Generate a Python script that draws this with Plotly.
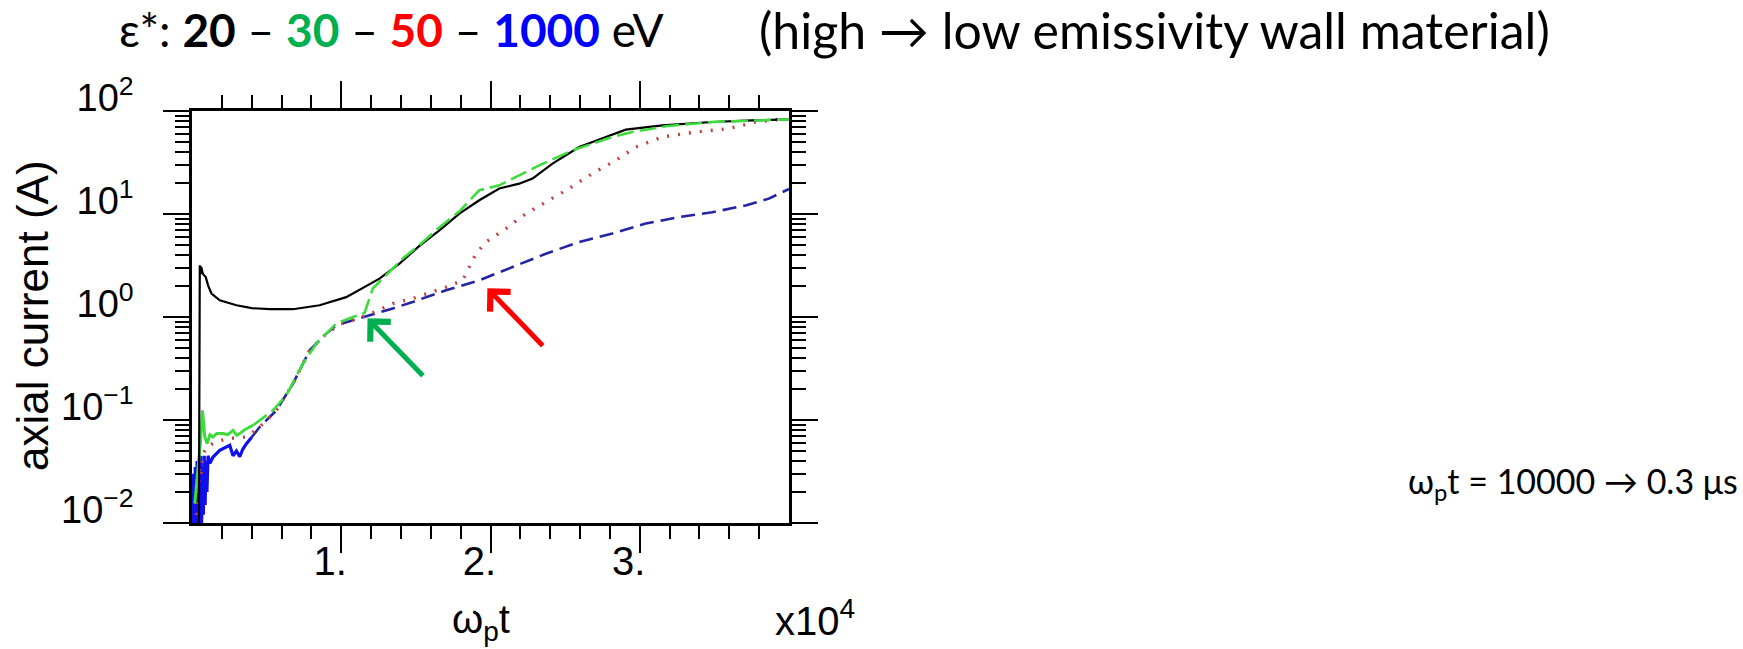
import math
import plotly.graph_objects as go

# ---------------- data ----------------
# x in units of omega_p * t, y = axial current in A
black_x = [440, 470, 495, 522, 545, 565, 590, 620, 660, 720, 800, 923, 1077, 1304, 1860, 2977, 4000,
           5204, 6763, 8548, 10334, 12562, 13900, 15237, 16575, 17913, 19251, 20589, 21926, 22816,
           24154, 25940, 26830, 29064, 31518, 34860, 37500, 39766, 40000]
black_y = [0.001, 0.01, 2.8, 3.18, 2.7, 3.1, 2.6, 3.06, 2.8, 2.65, 2.55, 2.44, 2.03, 1.69, 1.45, 1.30, 1.22,
           1.19, 1.19, 1.30, 1.56, 2.36, 3.30, 4.9, 6.95, 10.1, 13.6, 17.7, 19.7, 22.1,
           30.8, 44.7, 50.0, 65.9, 72.6, 78.2, 81.0, 82.6, 83.0]

green_early_x = [187, 408, 560, 702, 856, 1010, 1200, 1411, 1650, 2080, 2400, 2750, 3000, 3197, 3500, 4087]
green_early_y = [0.0154, 0.0325, 0.06, 0.124, 0.0684, 0.059, 0.072, 0.0684, 0.074, 0.0738, 0.072, 0.0794,
                 0.071, 0.0738, 0.08, 0.0889]
green_x = [4087, 5425, 6321, 7432, 8328, 9666, 10776, 11559, 12115, 12783, 14121, 15237, 16575, 17913,
           19251, 20589, 21480, 23265, 25492, 28167, 29505, 31740, 34860, 37500, 40000]
green_y = [0.0889, 0.124, 0.174, 0.353, 0.552, 0.863, 1.0, 1.094, 1.89, 2.36, 3.7, 5.0, 7.4, 10.6,
           17.0, 19.0, 22.1, 29.7, 41.5, 56.0, 62.5, 71.0, 78.2, 81.0, 83.0]

red_x = [300, 450, 522, 600, 743, 1000, 1500, 2308, 3000, 3646, 4535, 5652, 6763, 7880, 8997, 10000,
         11672, 13452, 14790, 17023, 18137, 18583, 19030, 19698, 21037, 22375, 23933, 25271, 26830,
         28395, 29733, 31518, 33746, 35973, 37759, 39766]
red_y = [0.012, 0.025, 0.035, 0.03, 0.0472, 0.055, 0.06, 0.0659, 0.067, 0.0684, 0.0855, 0.124, 0.225,
         0.475, 0.69, 0.86, 1.03, 1.35, 1.51, 1.95, 2.27, 3.05, 4.12, 5.35, 7.21, 10.1, 13.6, 17.7, 24.7,
         33.2, 44.7, 56.0, 62.5, 67.5, 78.2, 84.3]

blue_early_x = [40, 100, 160, 220, 280, 340, 400, 460, 520, 580, 640, 700, 760, 820, 880, 940, 1000,
                1077, 1200, 1411, 1860, 2300, 2528, 2750, 2977, 3200, 3400, 3646, 4000]
blue_early_y = [0.006, 0.03, 0.005, 0.035, 0.006, 0.04, 0.007, 0.03, 0.008, 0.045, 0.009, 0.035, 0.012,
                0.045, 0.015, 0.04, 0.02, 0.045, 0.038, 0.0437, 0.0508, 0.055, 0.0568, 0.045, 0.05, 0.044,
                0.052, 0.0589, 0.068]
blue_x = [4000, 4535, 5652, 6763, 7880, 8997, 9666, 10776, 11672, 13452, 14790, 17023, 19251, 21480,
          23710, 25940, 28167, 30400, 32630, 34860, 37090, 38650, 40000]
blue_y = [0.068, 0.0855, 0.124, 0.225, 0.475, 0.69, 0.83, 0.929, 1.0, 1.21, 1.40, 1.82, 2.27, 3.05,
          4.12, 5.35, 6.46, 8.07, 9.35, 10.4, 12.1, 14.1, 17.5]

# arrows: (tip x, tip y, tail x, tail y)
green_arrow = (11760, 0.97, 15570, 0.26)
red_arrow = (19790, 1.9, 23600, 0.508)

x_tickvals = [10000, 20000, 30000]
x_ticktext = ["1.", "2.", "3."]
x_minor = [2000, 4000, 6000, 8000, 12000, 14000, 16000, 18000, 22000, 24000, 26000, 28000,
           32000, 34000, 36000, 38000]
y_tickvals = [0.01, 0.1, 1, 10, 100]
y_ticktext = ["10<sup>\u22122</sup>", "10<sup>\u22121</sup>", "10<sup>0</sup>", "10<sup>1</sup>",
              "10<sup>2</sup>"]
y_minor = [m * 10 ** e for e in range(-2, 2) for m in range(2, 10)]

# ---------------- layout geometry ----------------
W, H = 1743, 649
L, R, T, B = 192, 789, 111, 523


def px(xp):
    return (xp - L) / (R - L)


def py(yp):
    return (B - yp) / (B - T)


fig = go.Figure()
fig.add_trace(go.Scatter(x=blue_early_x, y=blue_early_y, mode="lines",
                         line=dict(color="#1010ee", width=3.2)))
fig.add_trace(go.Scatter(x=blue_x, y=blue_y, mode="lines",
                         line=dict(color="#2424a4", width=2.6, dash="14px,7px")))
fig.add_trace(go.Scatter(x=red_x, y=red_y, mode="lines",
                         line=dict(color="#c04040", width=3.4, dash="2px,9px")))
fig.add_trace(go.Scatter(x=green_early_x, y=green_early_y, mode="lines",
                         line=dict(color="#3cdc3c", width=3)))
fig.add_trace(go.Scatter(x=black_x, y=black_y, mode="lines",
                         line=dict(color="#000000", width=2.2)))
fig.add_trace(go.Scatter(x=green_x, y=green_y, mode="lines",
                         line=dict(color="#3cdc3c", width=2.6, dash="17px,6px")))

SANS = "Liberation Sans, Arial, sans-serif"
SLIDE = "Lato, Calibri, sans-serif"

fig.update_layout(
    width=W, height=H,
    margin=dict(l=L, r=W - R, t=T, b=H - B, pad=0),
    paper_bgcolor="white", plot_bgcolor="white",
    showlegend=False,
    xaxis=dict(range=[0, 40000], showline=True, linewidth=2.5, linecolor="black", mirror="allticks",
               ticks="outside", tickmode="array", tickvals=x_tickvals, ticktext=x_ticktext,
               ticklen=27, tickwidth=2, tickcolor="black", showgrid=False, zeroline=False,
               tickfont=dict(family=SANS, size=40, color="black"), ticklabelshift=-11,
               ticklabelstandoff=-26,
               minor=dict(tickmode="array", tickvals=x_minor, ticks="outside", ticklen=13,
                          tickwidth=2, tickcolor="black", showgrid=False)),
    yaxis=dict(type="log", range=[-2, 2], showline=True, linewidth=2.5, linecolor="black",
               mirror="allticks", ticks="outside", tickmode="array", tickvals=y_tickvals,
               ticktext=y_ticktext, ticklen=26, tickwidth=2, tickcolor="black", showgrid=False,
               zeroline=False, tickfont=dict(family=SANS, size=38, color="black"),
               ticklabelstandoff=22, ticklabelshift=-13,
               minor=dict(tickmode="array", tickvals=y_minor, ticks="outside", ticklen=14,
                          tickwidth=2, tickcolor="black", showgrid=False)),
)

annotations = [
    dict(text="\u03b5*: <b>20</b> \u2013 <b><span style='color:#00B050'>30</span></b> \u2013 "
              "<b><span style='color:#FF0000'>50</span></b> \u2013 "
              "<b><span style='color:#0000FF'>1000</span></b> eV",
         x=px(117), y=py(30), xanchor="left", yanchor="middle",
         font=dict(family=SLIDE, size=46, color="black")),
    dict(text="(high \u2192 low emissivity wall material)",
         x=px(1552), y=py(30), xanchor="right", yanchor="middle",
         font=dict(family=SLIDE, size=50, color="black")),
    dict(text="axial current (A)", textangle=-90, x=px(32), y=py(316), xanchor="center",
         yanchor="middle", font=dict(family=SANS, size=44, color="black")),
    dict(text="\u03c9<sub>p</sub>t", x=px(481), y=py(622), xanchor="center", yanchor="middle",
         font=dict(family=SANS, size=40, color="black")),
    dict(text="x10<sup>4</sup>", x=px(773), y=py(618), xanchor="left", yanchor="middle",
         font=dict(family=SANS, size=40, color="black")),
    dict(text="\u03c9<sub>p</sub>t = 10000 \u2192 0.3 \u03bcs", x=px(1406), y=py(483),
         xanchor="left", yanchor="middle", font=dict(family=SLIDE, size=34, color="black")),
]
for a in annotations:
    a.update(xref="paper", yref="paper", showarrow=False)

for (tx, ty, sx, sy), col in [(green_arrow, "#00B050"), (red_arrow, "#FF0000")]:
    annotations.append(dict(x=tx, y=math.log10(ty), ax=sx, ay=math.log10(sy), xref="x", yref="y",
                            axref="x", ayref="y", text="", showarrow=True, arrowhead=4,
                            arrowsize=1.1, arrowwidth=5, arrowcolor=col, standoff=0))

fig.update_layout(annotations=annotations)
fig.write_html("out.html")
